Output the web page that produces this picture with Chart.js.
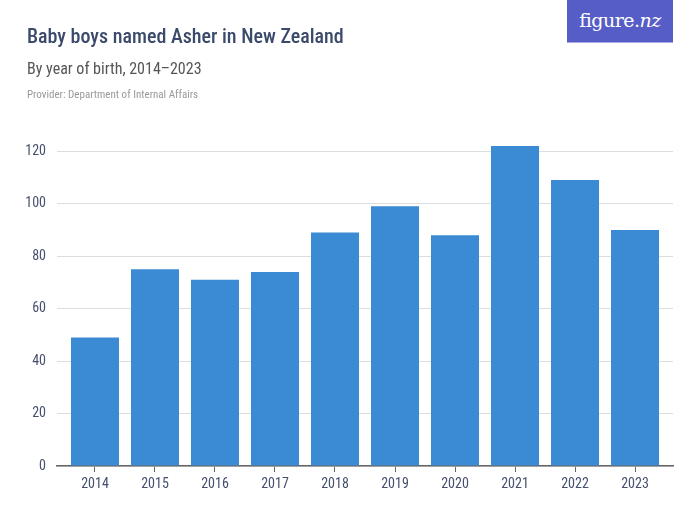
<!DOCTYPE html>
<html lang="en">
<head>
    <meta charset="UTF-8">
    <title>Baby boys named Asher in New Zealand</title>
    <script src="https://cdn.jsdelivr.net/npm/chart.js"></script>
    <style>
        html, body {
            margin: 0;
            padding: 0;
            background: #fff;
        }
        .wrap {
            position: relative;
            width: 700px;
            height: 525px;
            overflow: hidden;
            font-family: "Roboto Condensed", "Open Sans", sans-serif;
        }
        .wrap canvas {
            position: absolute;
            left: 0;
            top: 0;
        }
        h1 {
            position: absolute;
            left: 27px;
            top: 24px;
            margin: 0;
            font-size: 20px;
            font-weight: 500;
            color: #3b4a6b;
        }
        .sub {
            position: absolute;
            left: 27px;
            top: 59px;
            font-size: 16px;
            color: #555;
        }
        .provider {
            position: absolute;
            left: 27px;
            top: 88px;
            font-size: 11px;
            color: #999;
        }
        .logo {
            position: absolute;
            left: 567px;
            top: 0;
            width: 106px;
            height: 42px;
            background: #575dc6;
            border-bottom: 1px solid #a9abe0;
            color: #fff;
            font-family: "DejaVu Serif", serif;
            font-size: 19px;
            line-height: 40px;
            text-align: center;
            letter-spacing: -0.5px;
        }
    </style>
</head>
<body>
    <div class="wrap">
        <canvas id="chart" width="700" height="525"></canvas>
        <h1>Baby boys named Asher in New Zealand</h1>
        <div class="sub">By year of birth, 2014–2023</div>
        <div class="provider">Provider: Department of Internal Affairs</div>
        <div class="logo">figure.<i>nz</i></div>
    </div>

    <script>
        // data
        const years = ['2014', '2015', '2016', '2017', '2018', '2019', '2020', '2021', '2022', '2023'];
        const births = [49, 75, 71, 74, 89, 99, 88, 122, 109, 90];
        const yTicks = [0, 20, 40, 60, 80, 100, 120];

        const tickFont = { family: '"Roboto Condensed", sans-serif', size: 14 };

        // linear x so the axis line can run a little past the outer bars
        const points = births.map((v, i) => ({ x: i, y: v }));

        new Chart(document.getElementById('chart'), {
            type: 'bar',
            data: {
                datasets: [{
                    data: points,
                    backgroundColor: '#3a8ad4',
                    barPercentage: 0.8,
                    categoryPercentage: 1
                }]
            },
            options: {
                responsive: false,
                animation: false,
                layout: { padding: { top: 125, right: 27 } },
                plugins: {
                    legend: { display: false },
                    tooltip: { enabled: false }
                },
                scales: {
                    x: {
                        type: 'linear',
                        min: -0.633,
                        max: years.length - 1 + 0.633,
                        offset: false,
                        grid: { offset: false, drawOnChartArea: false, tickLength: 6, color: '#666' },
                        border: { color: '#666', width: 1.5 },
                        ticks: {
                            color: '#46506e',
                            font: tickFont,
                            padding: 4,
                            callback: v => years[v]
                        },
                        afterBuildTicks: s => { s.ticks = years.map((y, i) => ({ value: i })); },
                        afterFit: s => { s.height = 59; }
                    },
                    y: {
                        min: 0,
                        max: 130,
                        grid: { color: '#dddddd', drawTicks: false },
                        border: { display: false },
                        ticks: { color: '#46506e', font: tickFont, padding: 11 },
                        afterBuildTicks: s => { s.ticks = yTicks.map(v => ({ value: v })); },
                        afterFit: s => { s.width = 57; }
                    }
                }
            }
        });
    </script>
</body>
</html>
